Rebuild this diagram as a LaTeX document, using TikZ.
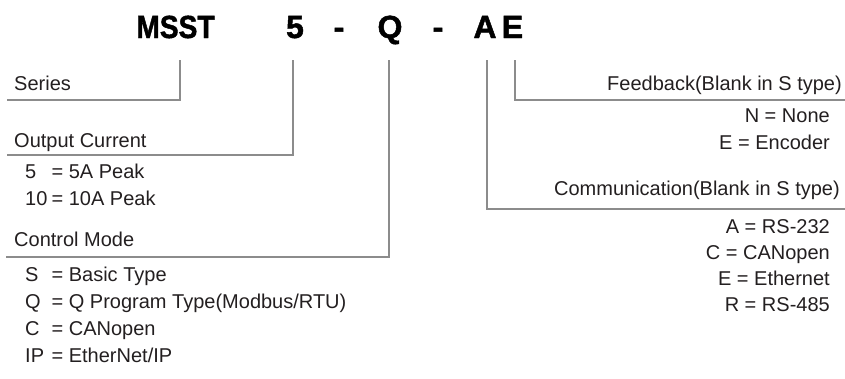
\documentclass[tikz,border=0pt]{standalone}
\usepackage{fontspec}
\setmainfont{Liberation Sans}
\newfontfamily\codefont[FakeBold=1.5]{Liberation Sans Bold}
\usepackage{tikz}
\usetikzlibrary{positioning}
\definecolor{leadgray}{HTML}{8C8C8C}
\definecolor{textgray}{HTML}{231F20}
\newcommand\optkey[2]{\makebox[1.32em][l]{#1}= #2}

\begin{document}
\begin{tikzpicture}[x=1pt, y=-1pt,
  code/.style={font=\fontsize{32}{32}\codefont, inner sep=0pt, anchor=base},
  field/.style={font=\fontsize{20}{20}\selectfont, text=textgray, inner sep=0pt, anchor=base west},
  rfield/.style={field, anchor=base east},
  leader/.style={draw=leadgray, line width=1.4pt}
]
  \useasboundingbox (0,0) rectangle (845,378);

  % Model code
  \node[code] (cser) at (175.5,38) {\scalebox{0.88}[1]{MSST}};
  \node[code] (cout) at (295,38) {5};
  \node[code] (dash1) at (339,38) {-};
  \node[code] (cmode) at (390,38) {Q};
  \node[code] (dash2) at (438,38) {-};
  \node[code] (ccom) at (485,38) {A};
  \node[code] (cfb) at (512.5,38) {E};
  \coordinate (drop) at (0,60);

  % Series
  \node[field] (ser) at (14,90) {Series};
  \coordinate (serend) at (7,100);
  \draw[leader] ([xshift=4.5pt]cser.center |- drop) |- (serend);

  % Output current
  \node[field] (out) at (14,147) {Output Current};
  \coordinate (outend) at (7,155);
  \draw[leader] ([xshift=-2pt]cout.center |- drop) |- (outend);
  \node[field] (out5) at (25,178) {\optkey{5}{5A Peak}};
  \node[field] (out10) at (25,205) {\optkey{10}{10A Peak}};

  % Control mode
  \node[field] (mode) at (14,246) {Control Mode};
  \coordinate (modeend) at (6,257);
  \draw[leader] ([xshift=-1pt]cmode.center |- drop) |- (modeend);
  \node[field] (modes) at (25,281) {\optkey{S}{Basic Type}};
  \node[field] (modeq) at (25,308) {\optkey{Q}{Q Program Type(Modbus/RTU)}};
  \node[field] (modec) at (25,335) {\optkey{C}{CANopen}};
  \node[field] (modeip) at (25,362) {\optkey{IP}{EtherNet/IP}};

  % Feedback
  \node[rfield] (fb) at (842,90) {Feedback(Blank in S type)};
  \coordinate (fbend) at (845,100);
  \draw[leader] ([xshift=2.5pt]cfb.center |- drop) |- (fbend);
  \node[rfield] (fbn) at (830,122) {N = None};
  \node[rfield] (fbe) at (830,149) {E = Encoder};

  % Communication
  \node[rfield] (com) at (840,195) {Communication(Blank in S type)};
  \coordinate (comend) at (845,209);
  \draw[leader] ([xshift=2pt]ccom.center |- drop) |- (comend);
  \node[rfield] (coma) at (830,233) {A = RS-232};
  \node[rfield] (comc) at (830,259) {C = CANopen};
  \node[rfield] (come) at (830,285) {E = Ethernet};
  \node[rfield] (comr) at (830,311) {R = RS-485};
\end{tikzpicture}
\end{document}
